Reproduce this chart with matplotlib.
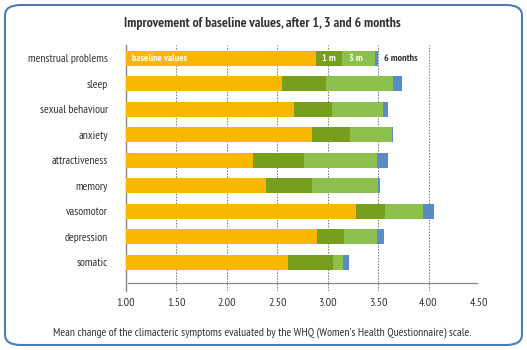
import matplotlib
matplotlib.use("Agg")
import matplotlib.pyplot as plt
from matplotlib.patches import FancyBboxPatch
import numpy as np

categories = ["menstrual problems", "sleep", "sexual behaviour", "anxiety",
              "attractiveness", "memory", "vasomotor", "depression", "somatic"]
# cumulative values (segment end positions on the scale)
baseline = [2.88, 2.55, 2.67, 2.84, 2.26, 2.39, 3.28, 2.89, 2.61]
after_1m = [3.14, 2.98, 3.04, 3.22, 2.76, 2.84, 3.57, 3.16, 3.05]
after_3m = [3.47, 3.65, 3.55, 3.64, 3.49, 3.50, 3.94, 3.49, 3.15]
after_6m = [3.50, 3.74, 3.60, 3.65, 3.60, 3.52, 4.05, 3.56, 3.21]
xticks = [1.0, 1.5, 2.0, 2.5, 3.0, 3.5, 4.0, 4.5]
xticklabels = ["1.00", "1.50", "2.00", "2.50", "3.00", "3.50", "4.00", "4.50"]

FONT = ["PT Sans Narrow", "DejaVu Sans"]
plt.rcParams['font.family'] = FONT

c_base = "#F9B700"
c_1m = "#779E1C"
c_3m = "#8DC04D"
c_6m = "#5A8AC8"
txt = "#333333"

W, H = 527, 350
fig = plt.figure(figsize=(W / 100, H / 100), dpi=100)

# rounded border
border = FancyBboxPatch((5 / W, 5 / H), (W - 10) / W, (H - 10) / H,
                        boxstyle="round,pad=0,rounding_size=0.03",
                        transform=fig.transFigure, fill=False,
                        edgecolor="#4A7DB3", linewidth=1.5)
fig.patches.append(border)

ax = fig.add_axes([126 / W, 1 - 291 / H, 353 / W, (291 - 45) / H])
n = len(categories)
y = np.arange(n)
h = 0.59
x0 = 1.0
b = np.array(baseline); m1 = np.array(after_1m); m3 = np.array(after_3m); m6 = np.array(after_6m)
ax.barh(y, b - x0, left=x0, height=h, color=c_base, zorder=3)
ax.barh(y, m1 - b, left=b, height=h, color=c_1m, zorder=3)
ax.barh(y, m3 - m1, left=m1, height=h, color=c_3m, zorder=3)
ax.barh(y, m6 - m3, left=m3, height=h, color=c_6m, zorder=3)

ax.set_xlim(1.0, 4.5)
ax.set_ylim(9.12, -0.52)
ax.set_yticks(y)
ax.set_yticklabels(categories, fontsize=8.4, color=txt)
ax.set_xticks(xticks)
ax.set_xticklabels(xticklabels, fontsize=8.6, color=txt)
ax.tick_params(length=0, pad=5)
ax.tick_params(axis='y', pad=13)
for s in ["top", "right", "bottom"]:
    ax.spines[s].set_visible(False)
ax.spines["left"].set_color("#888888")
ax.spines["left"].set_linewidth(1.0)
for xt in xticks[1:]:
    ax.axvline(xt, color="#777777", linestyle=(0, (1.5, 1.5)), linewidth=0.7, zorder=1)
ax.plot([1.02, 4.48], [8.82, 8.82], color="#888888", linewidth=0.9, zorder=2)

# in-bar labels
ax.text(1.06, 0, "baseline values", color="white", fontsize=7.3, fontweight="bold",
        va="center", ha="left", zorder=4)
ax.text((b[0] + m1[0]) / 2, 0, "1 m", color="white", fontsize=7.3, fontweight="bold",
        va="center", ha="center", zorder=4)
ax.text(m1[0] + 0.07, 0, "3 m", color="white", fontsize=7.3, fontweight="bold",
        va="center", ha="left", zorder=4)
ax.text(m6[0] + 0.06, 0, "6 months", color=txt, fontsize=7.3, fontweight="bold",
        va="center", ha="left", zorder=4)

fig.text(262 / W, 1 - 24 / H, "Improvement of baseline values, after 1, 3 and 6 months",
         ha="center", va="center", fontsize=9.9, fontweight="bold", color=txt)
fig.text(262 / W, 1 - 333 / H,
         "Mean change of the climacteric symptoms evaluated by the WHQ (Women\u2019s Health Questionnaire) scale.",
         ha="center", va="center", fontsize=8.4, color=txt)

fig.savefig("out.png", dpi=100)
